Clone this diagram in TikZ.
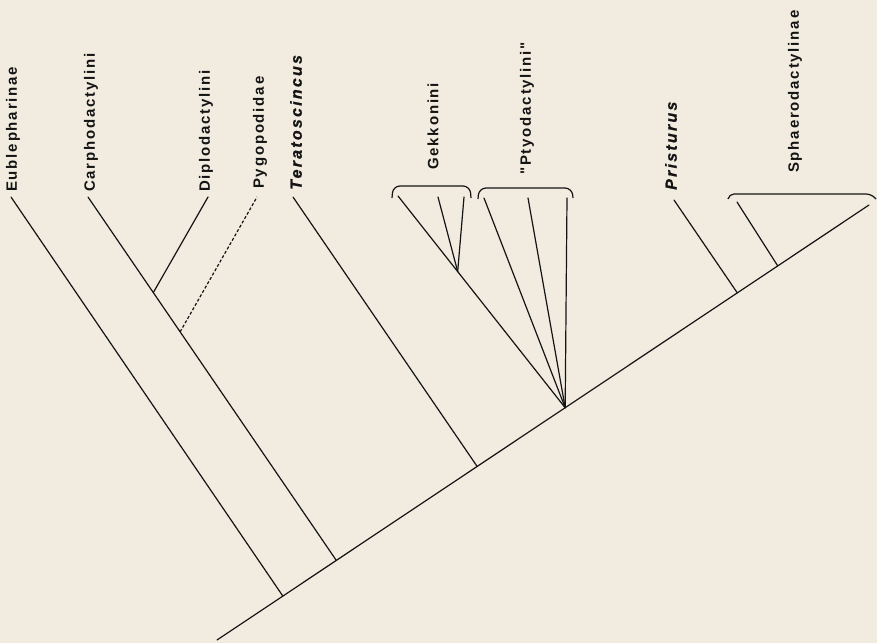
\documentclass[tikz,border=0pt]{standalone}
\usepackage{fontspec}
\usepackage{tikz}
\usetikzlibrary{calc}
\newfontfamily\taxonfont{Liberation Sans}[LetterSpace=12]
\newfontfamily\genusfont{Liberation Sans}[LetterSpace=14,FakeBold=0.8]
\definecolor{paperCream}{RGB}{242,236,224}
\colorlet{treeInk}{black!92}
\tikzset{
  % branches of the cladogram
  branch/.style={
    line width=1.2pt,
    draw=treeInk,
    line cap=round
  },
  dashedbranch/.style={
    branch,
    line cap=butt,
    dash pattern=on 3pt off 2pt
  },
  % terminal taxa, written upwards
  taxon/.style={
    rotate=90,
    anchor=west,
    inner sep=0pt,
    text=treeInk,
    font=\taxonfont\fontsize{15}{17}\selectfont\bfseries
  },
  genus/.style={
    taxon,
    font=\genusfont\fontsize{16}{18}\selectfont\bfseries\itshape
  },
  bracket/.style={
    line width=1.2pt,
    draw=treeInk
  }
}

\begin{document}
\begin{tikzpicture}[x=1pt,y=-1pt]

\fill[paperCream] (0,0) rectangle (877,643);
\useasboundingbox (0,0) rectangle (877,643);

% main stem
\coordinate (root) at (217,640);
\coordinate (stemTop) at (869,205);
\draw[branch] (root) -- (stemTop);

% taxon labels
\node[taxon] (eub) at (13,192) {Eublepharinae};
\node[taxon] (carph) at (91,192) {Carphodactylini};
\node[taxon] (diplo) at (206,192) {Diplodactylini};
\node[taxon] (pygo) at (260,189) {Pygopodidae};
\node[genus] (terat) at (296,190) {Teratoscincus};
\node[taxon] (gekko) at (433,170) {Gekkonini};
\node[taxon] (ptyo) at (527,175) {"Ptyodactylini"};
\node[genus] (prist) at (671,190) {Pristurus};
\node[taxon] (sphaer) at (795,173) {Sphaerodactylinae};

% branch points on the stem
\coordinate (bEub) at ($(root)!0.101!(stemTop)$);
\coordinate (bCarph) at ($(root)!0.183!(stemTop)$);
\coordinate (bTerat) at ($(root)!0.399!(stemTop)$);
\coordinate (bGekko) at ($(root)!0.534!(stemTop)$);
\coordinate (bPrist) at ($(root)!0.798!(stemTop)$);
\coordinate (bSphaer) at ($(root)!0.860!(stemTop)$);

% tips
\coordinate (tEub) at (11,197);
\coordinate (tCarph) at (88,197);
\coordinate (tDiplo) at (208,197);
\coordinate (tPygo) at (257,197);
\coordinate (tTerat) at (293,197);
\coordinate (tGek1) at (398,196);
\coordinate (tGek2) at (438,197);
\coordinate (tGek3) at (464,197);
\coordinate (tPty1) at (484,198);
\coordinate (tPty2) at (528,198);
\coordinate (tPty3) at (567,198);
\coordinate (tPrist) at (674,200);
\coordinate (tSphaer) at (737,202);

% inner nodes
\coordinate (bDiplo) at ($(bCarph)!0.737!(tCarph)$);
\coordinate (bPygo) at ($(bCarph)!0.629!(tCarph)$);
\coordinate (bGekIn) at ($(bGekko)!0.643!(tGek1)$);

\draw[branch] (bEub) -- (tEub);
\draw[branch] (bCarph) -- (tCarph);
\draw[branch] (bDiplo) -- (tDiplo);
\draw[dashedbranch] (bPygo) -- (tPygo);
\draw[branch] (bTerat) -- (tTerat);
\draw[branch] (bGekko) -- (tGek1);
\draw[branch] (bGekIn) -- (tGek2);
\draw[branch] (bGekIn) -- (tGek3);
\foreach \tip in {tPty1,tPty2,tPty3}
  \draw[branch] (bGekko) -- (\tip);
\draw[branch] (bPrist) -- (tPrist);
\draw[branch] (bSphaer) -- (tSphaer);

% brackets over grouped tips
\draw[bracket, rounded corners=7pt] (392,198) -- (393,186) -- (470,186) -- (471,198);
\draw[bracket, rounded corners=7pt] (478,199) -- (479,188) -- (572,188) -- (573,198);
\draw[bracket, rounded corners=5pt] (728,199) -- (729,194) -- (871,194) -- (876,199);

\end{tikzpicture}
\end{document}
